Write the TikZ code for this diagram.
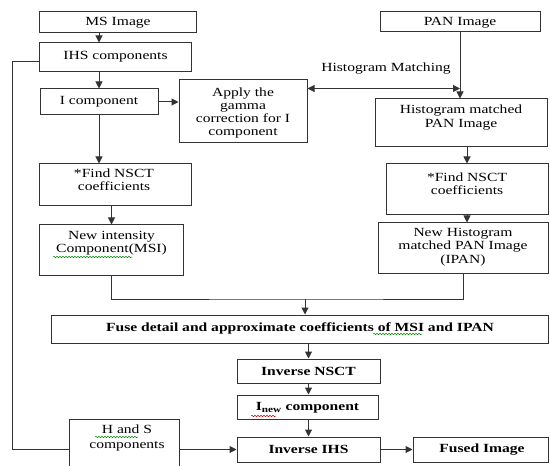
\documentclass[tikz,border=0pt]{standalone}
\usepackage{fontspec}
\setmainfont{Liberation Serif}[FakeStretch=1.25]
\usetikzlibrary{arrows.meta,calc,decorations.pathmorphing}
\begin{document}
\begin{tikzpicture}[x=1bp,y=-1bp,
  box/.style={draw=black!80, line width=1bp, inner sep=0pt},
  txt/.style={inner sep=0pt, align=center, font=\fontsize{12.5}{13.3}\selectfont},
  btxt/.style={txt, font=\fontsize{12.5}{13.3}\selectfont\bfseries},
  link/.style={draw=black!80, line width=1bp},
  arr/.style={link, -{Triangle[length=7bp,width=7bp]}},
  dblarr/.style={link, {Triangle[length=7bp,width=7bp]}-{Triangle[length=7bp,width=7bp]}},
  squig/.style={decorate, decoration={snake, amplitude=0.7bp, segment length=3bp}, line width=0.5bp}
]
\useasboundingbox (0,0) rectangle (550,466);
\clip (0,0) rectangle (550,466);

% --- boxes ---
\node[box, minimum width=156bp, minimum height=21bp] (ms)    at (118,22.5) {};
\node[box, minimum width=151bp, minimum height=29bp] (ihs)   at (115.5,57.5) {};
\node[box, minimum width=118bp, minimum height=26bp] (icomp) at (99,102) {};
\node[box, minimum width=128bp, minimum height=63bp] (gamma) at (243,111.5) {};
\node[box, minimum width=160bp, minimum height=20bp] (pan)   at (460,22) {};
\node[box, minimum width=172bp, minimum height=48bp] (hist)  at (461,123) {};
\node[box, minimum width=151bp, minimum height=42bp] (nsctL) at (115.5,185) {};
\node[box, minimum width=162bp, minimum height=51bp] (nsctR) at (467,189.5) {};
\node[box, minimum width=143bp, minimum height=50bp] (msi)   at (111.5,250) {};
\node[box, minimum width=170bp, minimum height=50bp] (ipan)  at (463,248) {};
\node[box, minimum width=496bp, minimum height=28bp] (fuse)  at (300,329) {};
\node[box, minimum width=143bp, minimum height=24bp] (invN)  at (308.5,371) {};
\node[box, minimum width=141bp, minimum height=24bp] (inew)  at (307.5,407) {};
\node[box, minimum width=143bp, minimum height=25bp] (invI)  at (308.5,449.5) {};
\node[box, minimum width=135bp, minimum height=25bp] (fused) at (480.5,449.5) {};
\node[box, minimum width=110bp, minimum height=56bp] (hs)    at (124,447) {};

% --- labels ---
\node[txt]  (msT)    at (118,23)      {MS Image};
\node[txt]  (ihsT)   at (115.5,56.5)  {IHS components};
\node[txt]  (icompT) at (99,102)      {I component};
\node[txt]  (gammaT) at (243,113)     {Apply the\\gamma\\correction for I\\component};
\node[txt]  (panT)   at (460,22.5)    {PAN Image};
\node[txt]  (histT)  at (461,117.5)   {Histogram matched\\PAN Image};
\node[txt]  (hmT)    at (386,69)      {Histogram Matching};
\node[txt]  (nsctLT) at (114,179.5)   {*Find NSCT\\coefficients};
\node[txt]  (nsctRT) at (467,184)     {*Find NSCT\\coefficients};
\node[txt]  (msiT)   at (111.5,243)   {New intensity\\Component(MSI)};
\node[txt]  (ipanT)  at (463,247)     {New Histogram\\matched PAN Image\\(IPAN)};
\node[btxt] (fuseT)  at (300,328)     {Fuse detail and approximate coefficients of MSI and IPAN};
\node[btxt] (invNT)  at (308.5,371)   {Inverse NSCT};
\node[btxt] (inewT)  at (307.5,408)   {I\textsubscript{\fontsize{9}{9}\selectfont new} component};
\node[btxt] (invIT)  at (308.5,449.5) {Inverse IHS};
\node[btxt] (fusedT) at (482,450)     {Fused Image};
\node[txt, font=\fontsize{12.5}{15}\selectfont] (hsT) at (127,438) {H and S\\components};

% --- spell-check underlines ---
\draw[squig, green!55!black] (53,257) -- (132,257);
\draw[squig, green!55!black] (95,437) -- (138,437);
\draw[squig, green!55!black] (373,334) -- (422,334);
\draw[squig, red!80!black]   (251,416) -- (276,416);

% --- connectors ---
\coordinate (j)  at (305,299);
\coordinate (lp) at (12,449);
\coordinate (ha) at ($(gamma.north east)+(0,9)$);

\draw[arr] (ms.south -| icomp) -- (ihs.north -| icomp);
\draw[arr] (ihs.south -| icomp) -- (icomp.north);
\draw[arr] (icomp.south) -- (nsctL.north -| icomp);
\draw[arr] (nsctL.south -| msi) -- (msi.north);
\draw[arr] (icomp.east) -- (gamma.west |- icomp);
\draw[arr] (pan.south) -- (hist.north -| pan);
\draw[dblarr] (ha) -- (ha -| pan);
\draw[arr] (hist.south -| nsctR) -- (nsctR.north);
\draw[arr] (nsctR.south) -- (ipan.north -| nsctR);
\draw[link] (msi.south) |- (j) -| (ipan.south);
\draw[arr] (j) -- (fuse.north -| j);
\draw[arr] (fuse.south -| invN) -- (invN.north);
\draw[arr] (invN.south) -- (inew.north -| invN);
\draw[arr] (inew.south -| invI) -- (invI.north);
\draw[arr] (invI.west -| hs.east) -- (invI.west);
\draw[arr] (invI.east) -- (fused.west);
\draw[link] ($(ihs.west)+(0,4.5)$) -| (lp) -- (lp -| hs.west);
\end{tikzpicture}
\end{document}
